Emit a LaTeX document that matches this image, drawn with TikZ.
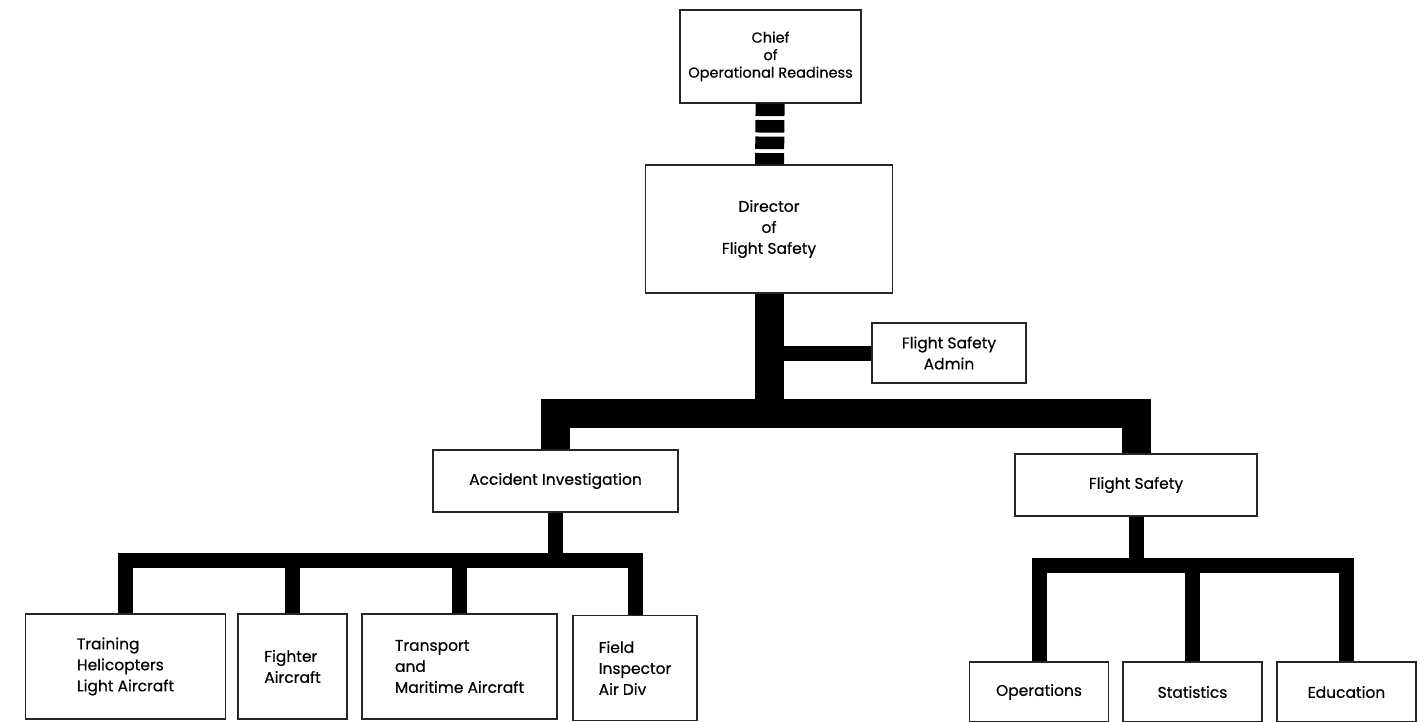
\documentclass[tikz,border=0pt]{standalone}
\usepackage{fontspec}
\setmainfont{Poppins}[FakeBold=0.5]
\usepackage{tikz}

\begin{document}
\begin{tikzpicture}[x=1pt,y=-1pt,
  box/.style={draw=black!85,line width=1.2pt,fill=white,inner sep=0pt,align=center,
    font=\fontsize{15.5}{21}\selectfont},
  leftbox/.style={box,align=left},
  trunk/.style={line width=29pt,line join=miter,black},
  branch/.style={line width=15pt,line join=miter,black}]
\useasboundingbox (0,0) rectangle (1425,722);
% top of the chart
\node[box,minimum width=181,minimum height=93,font=\fontsize{14.5}{17.5}\selectfont] (chief) at (770.5,56.5)
  {Chief\\of\\Operational Readiness};
\node[box,minimum width=247,minimum height=128] (director) at (769,229) {Director\\of\\Flight Safety};
\node[box,minimum width=154,minimum height=60] (admin) at (949,353) {Flight Safety\\Admin};
% second level
\node[box,minimum width=245,minimum height=62] (acc) at (555.5,481) {Accident Investigation};
\node[box,minimum width=242,minimum height=62] (fs) at (1136,485) {Flight Safety};
% accident investigation sections
\node[leftbox,minimum width=200,minimum height=105] (train) at (125.5,666.5) {Training\\Helicopters\\Light Aircraft};
\node[leftbox,minimum width=109,minimum height=105] (fighter) at (292.5,666.5) {Fighter\\Aircraft};
\node[leftbox,minimum width=195,minimum height=105] (trans) at (459.5,666.5) {Transport\\and\\Maritime Aircraft};
\node[leftbox,minimum width=124,minimum height=105] (field) at (635,668) {Field\\Inspector\\Air Div};
% flight safety sections
\node[box,minimum width=139,minimum height=60] (ops) at (1039,692) {Operations};
\node[box,minimum width=139,minimum height=60] (stat) at (1192.5,692) {Statistics};
\node[box,minimum width=139,minimum height=60] (edu) at (1346.5,692) {Education};
\coordinate (mainbar) at (770,413.5);
\coordinate (accbar) at (555.5,560);
\coordinate (fsbar) at (1136,565);
% links
\draw[trunk,dash pattern=on 12.5pt off 4pt] (chief) -- (director);
\draw[trunk] (director) -- (director |- mainbar);
\draw[branch] (admin) -- (admin -| director);
\draw[trunk] (acc) -- (acc |- mainbar) -- (fs |- mainbar) -- (fs);
\draw[branch] (acc) -- (accbar);
\draw[branch] (train) -- (train |- accbar) -- (field |- accbar) -- (field);
\draw[branch] (fighter) -- (fighter |- accbar);
\draw[branch] (trans) -- (trans |- accbar);
\draw[branch] (fs) -- (fsbar);
\draw[branch] (ops) -- (ops |- fsbar) -- (edu |- fsbar) -- (edu);
\draw[branch] (stat) -- (stat |- fsbar);
\end{tikzpicture}
\end{document}
